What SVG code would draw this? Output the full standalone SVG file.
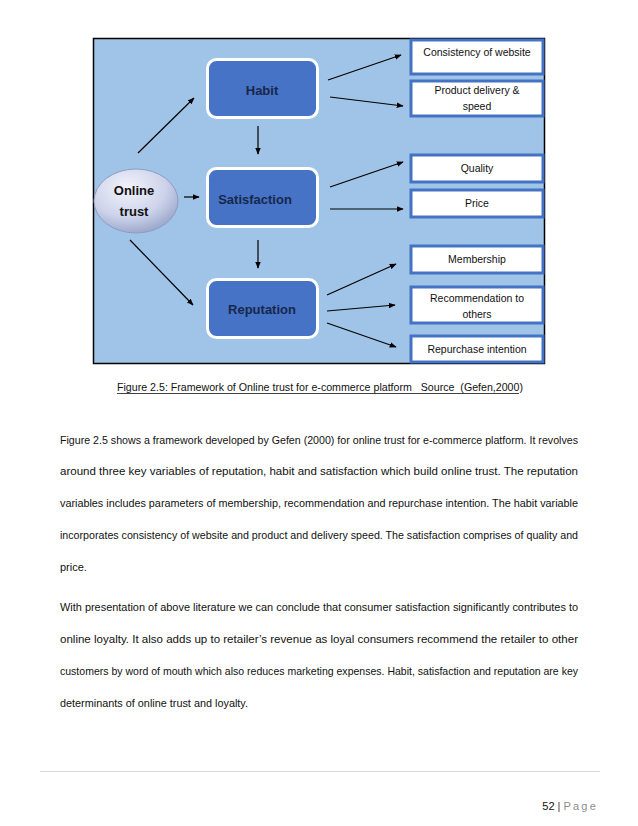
<svg xmlns="http://www.w3.org/2000/svg" width="638" height="826" viewBox="0 0 638 826">
<style>
.bg{fill:#9fc4e7;stroke:#000;stroke-width:1.5}
.node{fill:#4673c6;stroke:#fff;stroke-width:3}
.nlabel{font-family:"Liberation Sans",Arial,sans-serif;font-weight:bold;font-size:13px;fill:#17274a;text-anchor:middle}
.box{fill:#fff;stroke:#4472c4;stroke-width:3}
.blabel{font-family:"Liberation Sans",Arial,sans-serif;font-size:10.5px;fill:#111;text-anchor:middle}
.conn line{stroke:#000;stroke-width:1.2;marker-end:url(#ah)}
.body{font-family:"Liberation Sans",Arial,sans-serif;font-size:11px;fill:#111}
</style>
<defs>
<marker id="ah" viewBox="0 0 10 10" refX="9" refY="5" markerWidth="7" markerHeight="7" markerUnits="userSpaceOnUse" orient="auto">
<path d="M0,1 L10,5 L0,9 z" fill="#000"/>
</marker>
<radialGradient id="eg" cx="0.4" cy="0.3" r="0.75">
<stop offset="0" stop-color="#f2f3fb"/>
<stop offset="0.6" stop-color="#cdd3ea"/>
<stop offset="1" stop-color="#95a3c8"/>
</radialGradient>
</defs>
<rect width="638" height="826" fill="#fff"/>
<rect class="bg" x="93.5" y="38.5" width="451" height="325"/>

<g id="online-trust">
<ellipse cx="136" cy="201" rx="42" ry="32" fill="url(#eg)" stroke="#8f9cc0" stroke-width="1"/>
<text class="nlabel" x="134" y="195" style="fill:#111">Online</text>
<text class="nlabel" x="134" y="216" style="fill:#111">trust</text>
</g>
<g id="habit">
<rect class="node" x="207.5" y="59.5" width="110" height="58" rx="9"/>
<text class="nlabel" x="262" y="95">Habit</text>
</g>
<g id="satisfaction">
<rect class="node" x="207.5" y="168.5" width="110" height="58" rx="9"/>
<text class="nlabel" x="255" y="204">Satisfaction</text>
</g>
<g id="reputation">
<rect class="node" x="207.5" y="279.5" width="110" height="58" rx="9"/>
<text class="nlabel" x="262" y="314">Reputation</text>
</g>

<g id="consistency">
<rect class="box" x="411" y="40" width="132" height="34"/>
<text class="blabel" x="477" y="56">Consistency of website</text>
</g>
<g id="product-delivery">
<rect class="box" x="411" y="81" width="132" height="35"/>
<text class="blabel" x="477" y="94">Product delivery &amp;</text>
<text class="blabel" x="477" y="110">speed</text>
</g>
<g id="quality">
<rect class="box" x="411" y="155" width="132" height="27"/>
<text class="blabel" x="477" y="172">Quality</text>
</g>
<g id="price">
<rect class="box" x="411" y="190" width="132" height="27"/>
<text class="blabel" x="477" y="207">Price</text>
</g>
<g id="membership">
<rect class="box" x="411" y="246" width="132" height="27"/>
<text class="blabel" x="477" y="263">Membership</text>
</g>
<g id="recommendation">
<rect class="box" x="411" y="287" width="132" height="36"/>
<text class="blabel" x="477" y="302">Recommendation to</text>
<text class="blabel" x="477" y="318">others</text>
</g>
<g id="repurchase">
<rect class="box" x="411" y="336" width="132" height="26"/>
<text class="blabel" x="477" y="353">Repurchase intention</text>
</g>

<g id="connectors" class="conn">
<line x1="138" y1="153" x2="194" y2="98"/>
<line x1="184" y1="197" x2="199" y2="197"/>
<line x1="130" y1="240" x2="193" y2="305"/>
<line x1="258" y1="126" x2="258" y2="154"/>
<line x1="258" y1="240" x2="258" y2="268"/>
<line x1="328" y1="80" x2="401" y2="55"/>
<line x1="330" y1="97" x2="403" y2="106"/>
<line x1="330" y1="187" x2="403" y2="162"/>
<line x1="330" y1="209" x2="403" y2="209"/>
<line x1="327" y1="295" x2="396" y2="264"/>
<line x1="327" y1="311" x2="395" y2="305"/>
<line x1="327" y1="323" x2="396" y2="347"/>
</g>

<text class="body" x="117" y="391" textLength="406" lengthAdjust="spacingAndGlyphs" xml:space="preserve">Figure 2.5: Framework of Online trust for e-commerce platform   Source  (Gefen,2000)</text>
<line x1="117" y1="393.5" x2="519" y2="393.5" stroke="#111" stroke-width="0.8"/>

<g class="body">
<text x="60" y="444" textLength="518" lengthAdjust="spacingAndGlyphs">Figure 2.5 shows a framework developed by Gefen (2000) for online trust for e-commerce platform. It revolves</text>
<text x="60" y="475" textLength="518" lengthAdjust="spacingAndGlyphs">around three key variables of reputation, habit and satisfaction which build online trust. The reputation</text>
<text x="60" y="507" textLength="518" lengthAdjust="spacingAndGlyphs">variables includes parameters of membership, recommendation and repurchase intention. The habit variable</text>
<text x="60" y="539" textLength="518" lengthAdjust="spacingAndGlyphs">incorporates consistency of website and product and delivery speed. The satisfaction comprises of quality and</text>
<text x="60" y="571">price.</text>
<text x="60" y="611" textLength="518" lengthAdjust="spacingAndGlyphs">With presentation of above literature we can conclude that consumer satisfaction significantly contributes to</text>
<text x="60" y="643" textLength="518" lengthAdjust="spacingAndGlyphs">online loyalty. It also adds up to retailer’s revenue as loyal consumers recommend the retailer to other</text>
<text x="60" y="675" textLength="518" lengthAdjust="spacingAndGlyphs">customers by word of mouth which also reduces marketing expenses. Habit, satisfaction and reputation are key</text>
<text x="60" y="707" textLength="188" lengthAdjust="spacingAndGlyphs">determinants of online trust and loyalty.</text>
</g>

<line x1="40" y1="771.5" x2="600" y2="771.5" stroke="#d9d9d9" stroke-width="1"/>
<text class="body" x="598" y="810" text-anchor="end" xml:space="preserve">52 <tspan fill="#444">|</tspan> <tspan fill="#8c8c8c" letter-spacing="2.2">Page</tspan></text>
</svg>
